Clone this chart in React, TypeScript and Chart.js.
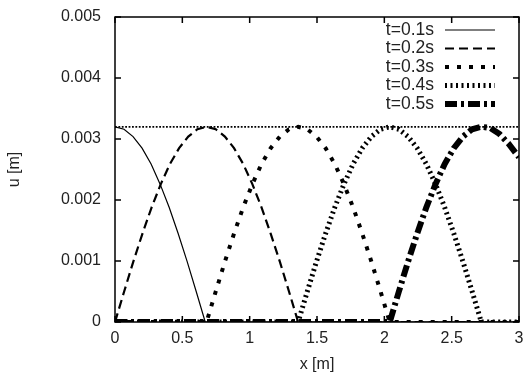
import React, { useEffect, useRef } from "react";
import { Chart, registerables } from "chart.js";

Chart.register(...registerables);

// ---- data ----
const xTicks = [0, 0.5, 1, 1.5, 2, 2.5, 3];
const xTickLabels = ["0", "0.5", "1", "1.5", "2", "2.5", "3"];
const yTicks = [0, 0.001, 0.002, 0.003, 0.004, 0.005];
const yTickLabels = ["0", "0.001", "0.002", "0.003", "0.004", "0.005"];
const seriesLabels = ["t=0.1s", "t=0.2s", "t=0.3s", "t=0.4s", "t=0.5s"];
const xTitle = "x [m]";
const yTitle = "u [m]";

const x01 = [0, 0.067, 0.134, 0.201, 0.268, 0.335, 0.402, 0.469, 0.536, 0.603, 0.67, 3];
const u01 = [0.0032, 0.00316, 0.00304, 0.00285, 0.00259, 0.00226, 0.00188, 0.00145, 0.00099, 0.0005, 0, 0];

const x02 = [0, 0.068, 0.136, 0.204, 0.272, 0.34, 0.408, 0.476, 0.544, 0.612, 0.68, 0.748, 0.816, 0.884, 0.952, 1.02, 1.088, 1.156, 1.224, 1.292, 1.36, 3];
const u02 = [0, 0.0005, 0.00099, 0.00145, 0.00188, 0.00226, 0.00259, 0.00285, 0.00304, 0.00316, 0.0032, 0.00316, 0.00304, 0.00285, 0.00259, 0.00226, 0.00188, 0.00145, 0.00099, 0.0005, 0, 0];

const x03 = [0, 0.68, 0.748, 0.816, 0.884, 0.952, 1.02, 1.088, 1.156, 1.224, 1.292, 1.36, 1.428, 1.496, 1.564, 1.632, 1.7, 1.768, 1.836, 1.904, 1.972, 2.04, 3];
const u03 = [0, 0, 0.0005, 0.00099, 0.00145, 0.00188, 0.00226, 0.00259, 0.00285, 0.00304, 0.00316, 0.0032, 0.00316, 0.00304, 0.00285, 0.00259, 0.00226, 0.00188, 0.00145, 0.00099, 0.0005, 0, 0];

const x04 = [0, 1.36, 1.428, 1.496, 1.564, 1.632, 1.7, 1.768, 1.836, 1.904, 1.972, 2.04, 2.108, 2.176, 2.244, 2.312, 2.38, 2.448, 2.516, 2.584, 2.652, 2.72, 3];
const u04 = [0, 0, 0.0005, 0.00099, 0.00145, 0.00188, 0.00226, 0.00259, 0.00285, 0.00304, 0.00316, 0.0032, 0.00316, 0.00304, 0.00285, 0.00259, 0.00226, 0.00188, 0.00145, 0.00099, 0.0005, 0, 0];

const x05 = [0, 2.04, 2.108, 2.176, 2.244, 2.312, 2.38, 2.448, 2.516, 2.584, 2.652, 2.72, 2.788, 2.856, 2.924, 3];
const u05 = [0, 0, 0.0005, 0.00099, 0.00145, 0.00188, 0.00226, 0.00259, 0.00285, 0.00304, 0.00316, 0.0032, 0.00318, 0.00308, 0.00292, 0.0027];

const xPeak = [0, 3];
const uPeak = [0.0032, 0.0032];

const FONT = "'Liberation Sans', Arial, Helvetica, sans-serif";
const TEXT = "#222";

const styles = [
  { width: 1.2, dash: [] as number[] },
  { width: 2.2, dash: [9, 5] },
  { width: 4, dash: [4, 8] },
  { width: 5, dash: [2, 3.5] },
  { width: 6, dash: [12, 4, 3, 4] },
];

function pts(xs: number[], us: number[]) {
  return xs.map((x, i) => ({ x, y: us[i] }));
}

const framePlugin = {
  id: "gnuframe",
  afterDraw(chart: any) {
    const { ctx, chartArea: a, scales } = chart;
    const xs = scales.x;
    const ys = scales.y;
    ctx.save();
    ctx.strokeStyle = "#000";
    ctx.lineWidth = 1.5;
    ctx.setLineDash([]);
    ctx.strokeRect(a.left, a.top, a.right - a.left, a.bottom - a.top);
    const tl = 6;
    ctx.beginPath();
    xTicks.forEach((v) => {
      const px = xs.getPixelForValue(v);
      ctx.moveTo(px, a.bottom);
      ctx.lineTo(px, a.bottom - tl);
      ctx.moveTo(px, a.top);
      ctx.lineTo(px, a.top + tl);
    });
    yTicks.forEach((v) => {
      const py = ys.getPixelForValue(v);
      ctx.moveTo(a.left, py);
      ctx.lineTo(a.left + tl, py);
      ctx.moveTo(a.right, py);
      ctx.lineTo(a.right - tl, py);
    });
    ctx.stroke();

    // tick labels and axis titles
    ctx.fillStyle = TEXT;
    ctx.font = `16px ${FONT}`;
    ctx.textBaseline = "middle";
    ctx.textAlign = "right";
    yTicks.forEach((v, i) => {
      ctx.fillText(yTickLabels[i], a.left - 14, ys.getPixelForValue(v));
    });
    ctx.textAlign = "center";
    xTicks.forEach((v, i) => {
      ctx.fillText(xTickLabels[i], xs.getPixelForValue(v), a.bottom + 17);
    });
    ctx.fillText(xTitle, (a.left + a.right) / 2, a.bottom + 43);
    ctx.save();
    ctx.translate(15, (a.top + a.bottom) / 2);
    ctx.rotate(-Math.PI / 2);
    ctx.fillText(yTitle, 0, 0);
    ctx.restore();

    // legend (gnuplot style: right-aligned text, sample on the right)
    const textRight = 434;
    const sx0 = 445;
    const sx1 = 495;
    const y0 = 30;
    const dy = 18.5;
    ctx.font = `17.5px ${FONT}`;
    ctx.textAlign = "right";
    ctx.textBaseline = "middle";
    seriesLabels.forEach((lab, i) => {
      const y = y0 + i * dy;
      ctx.fillStyle = TEXT;
      ctx.fillText(lab, textRight, y);
      ctx.strokeStyle = "#000";
      ctx.lineWidth = styles[i].width;
      ctx.setLineDash(styles[i].dash);
      ctx.lineCap = "butt";
      ctx.beginPath();
      ctx.moveTo(sx0, y);
      ctx.lineTo(sx1, y);
      ctx.stroke();
    });
    ctx.restore();
  },
};

export default function App() {
  const ref = useRef<HTMLCanvasElement | null>(null);

  useEffect(() => {
    if (!ref.current) return;
    const seriesData = [pts(x01, u01), pts(x02, u02), pts(x03, u03), pts(x04, u04), pts(x05, u05)];
    const datasets: any[] = seriesData.map((d, i) => ({
      label: seriesLabels[i],
      data: d,
      showLine: true,
      borderColor: "#000",
      backgroundColor: "#000",
      borderWidth: styles[i].width,
      borderDash: styles[i].dash,
      pointRadius: 0,
      tension: 0,
      fill: false,
    }));
    datasets.push({
      label: "peak",
      data: pts(xPeak, uPeak),
      showLine: true,
      borderColor: "#000",
      borderWidth: 1.8,
      borderDash: [1.8, 1.6],
      pointRadius: 0,
      fill: false,
    });

    const chart = new Chart(ref.current, {
      type: "scatter",
      data: { datasets },
      plugins: [framePlugin],
      options: {
        animation: false,
        responsive: false,
        maintainAspectRatio: false,
        layout: { padding: { top: 17, right: 5, left: 0, bottom: 0 } },
        plugins: { legend: { display: false }, tooltip: { enabled: false } },
        scales: {
          x: {
            type: "linear",
            min: 0,
            max: 3,
            afterFit: (s: any) => {
              s.height = 62;
            },
            grid: { display: false, drawTicks: false },
            border: { display: false },
            ticks: { display: false },
            title: { display: false },
          },
          y: {
            type: "linear",
            min: 0,
            max: 0.005,
            afterFit: (s: any) => {
              s.width = 115;
            },
            grid: { display: false, drawTicks: false },
            border: { display: false },
            ticks: { display: false },
            title: { display: false },
          },
        },
      },
    });
    return () => chart.destroy();
  }, []);

  return (
    <div style={{ position: "absolute", left: 0, top: 0, width: 524, height: 384, background: "#fff" }}>
      <canvas ref={ref} width={524} height={384} style={{ width: 524, height: 384 }} />
    </div>
  );
}
